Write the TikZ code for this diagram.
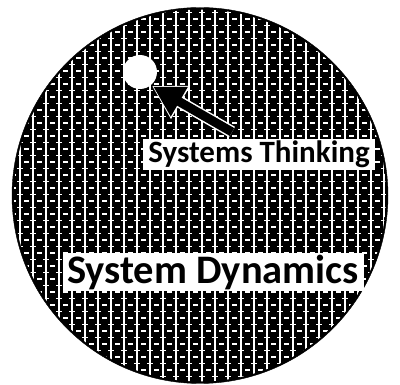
\documentclass[tikz,border=0pt]{standalone}
\usepackage{fontspec}
\setmainfont{Carlito}
\usetikzlibrary{arrows.meta,calc}
\tikzset{
  disc/.style={fill=black,draw=black},
  vline/.style={white,line width=1.6},
  hdash/.style={white,line width=1.4},
  labelbox/.style={fill=white,inner sep=0pt,text=black},
}
\begin{document}
\begin{tikzpicture}[x=1pt,y=-1pt]
\useasboundingbox (0,0) rectangle (400,385);
\node[circle,disc,minimum size=376,inner sep=0pt] (big) at (200,195.5) {};
\begin{scope}
  \clip (200,195.5) circle (186);
  \foreach \cx in {7,20,...,397} {
    \draw[vline] (\cx,0) -- (\cx,390);
  }
  \foreach \i in {0,...,60} {
    \pgfmathsetmacro{\yy}{6+6.5*\i}
    \pgfmathtruncatemacro{\rowpar}{mod(\i,2)}
    \ifnum\rowpar=0
      \foreach \cx in {7,20,...,397} {
        \draw[hdash] (\cx+4,\yy) -- (\cx+9,\yy);
      }
    \else
      \foreach \cx in {7,20,...,397} {
        \draw[hdash] (\cx-3,\yy) -- (\cx+3,\yy);
      }
    \fi
  }
\end{scope}
\node[circle,fill=white,minimum size=34,inner sep=0pt] (hole) at (140,72) {};
\coordinate (tail) at (232,132);
\coordinate (tip) at (152,86);
\draw[white,line width=12,-{Triangle[length=33,width=36]}] (tail) -- (tip);
\draw[black,line width=9,-{Triangle[length=30,width=32]}] (tail) -- ($(tip)!1.5pt!(tail)$);
\node[labelbox,minimum width=232,minimum height=31,font=\fontsize{31}{31}\selectfont\bfseries] (st) at (259,154.5) {Systems Thinking};
\node[labelbox,minimum width=301,minimum height=38,font=\fontsize{40.5}{40.5}\selectfont\bfseries] (sd) at (213,272) {System Dynamics};
\end{tikzpicture}
\end{document}
